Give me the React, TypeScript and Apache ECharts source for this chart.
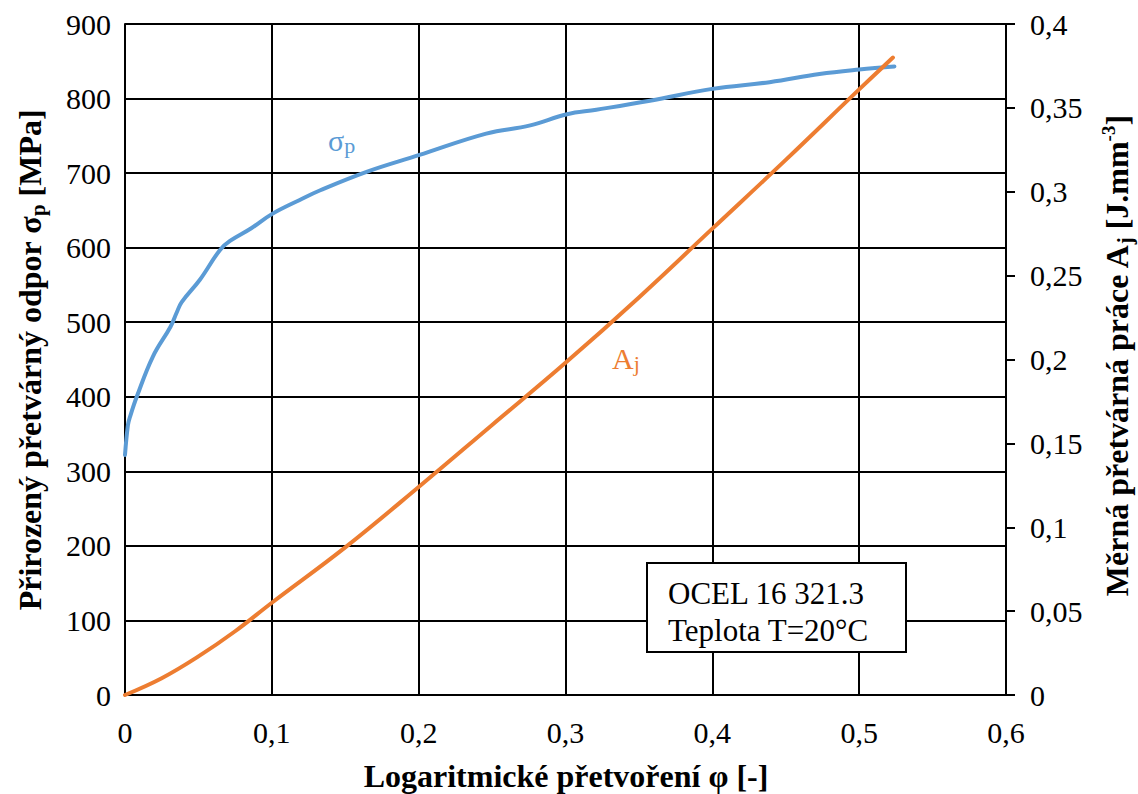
import React, { useEffect, useRef } from "react";
import * as echarts from "echarts";

// σp curve (true stress) vs logarithmic strain φ
const sigmaPhi = [0, 0.002, 0.0034, 0.008, 0.019, 0.031, 0.035, 0.0386, 0.051, 0.0647, 0.0715, 0.086, 0.1, 0.119, 0.133, 0.165, 0.2, 0.246, 0.276, 0.301, 0.321, 0.3575, 0.4, 0.439, 0.473, 0.5, 0.524];
const sigmaVal = [322, 362, 373, 400, 454, 494, 512, 527, 557, 597, 609, 626, 645, 664, 677, 702, 724, 753, 764, 779, 785, 797, 813, 822, 833, 839, 843];

// Aj curve (specific deformation work) vs φ
const ajPhi = [0, 0.025, 0.05, 0.075, 0.1, 0.15, 0.2, 0.25, 0.3, 0.35, 0.4, 0.45, 0.5, 0.523];
const ajVal = [0, 0.010, 0.023, 0.038, 0.055, 0.088, 0.124, 0.161, 0.198, 0.237, 0.278, 0.319, 0.361, 0.38];

const xTicks = { min: 0, max: 0.6, interval: 0.1 };
const yLeftTicks = { min: 0, max: 900, interval: 100 };
const yRightTicks = { min: 0, max: 0.4, interval: 0.05 };

const FONT = "Liberation Serif";
const BLUE = "#5B9BD5";
const ORANGE = "#ED7D31";

const comma = (v: number) => String(+v.toFixed(4)).replace(".", ",");

export default function App() {
  const ref = useRef<HTMLDivElement>(null);
  useEffect(() => {
    if (!ref.current) return;
    const chart = echarts.init(ref.current, null, { renderer: "svg" });
    const sigmaData = sigmaPhi.map((p, i) => [p, sigmaVal[i]]);
    const ajData = ajPhi.map((p, i) => [p, ajVal[i]]);
    const tickLabel = { fontFamily: FONT, fontSize: 30, color: "#000" };
    chart.setOption({
      animation: false,
      backgroundColor: "#fff",
      textStyle: { fontFamily: FONT },
      grid: { left: 125, right: 132, top: 24, bottom: 99, containLabel: false },
      xAxis: {
        type: "value",
        ...xTicks,
        axisLine: { show: true, onZero: false, lineStyle: { color: "#000", width: 2 } },
        axisTick: { show: false },
        axisLabel: { ...tickLabel, margin: 22, formatter: comma },
        splitLine: { show: true, lineStyle: { color: "#000", width: 2 } },
      },
      yAxis: [
        {
          type: "value",
          position: "left",
          ...yLeftTicks,
          axisLine: { show: true, lineStyle: { color: "#000", width: 2 } },
          axisTick: { show: false },
          axisLabel: { ...tickLabel, margin: 14 },
          splitLine: { show: true, lineStyle: { color: "#000", width: 2 } },
        },
        {
          type: "value",
          position: "right",
          ...yRightTicks,
          axisLine: { show: true, lineStyle: { color: "#000", width: 2 } },
          axisTick: { show: true, inside: false, length: 9, lineStyle: { color: "#000", width: 2 } },
          axisLabel: { ...tickLabel, margin: 24, formatter: comma },
          splitLine: { show: false },
        },
      ],
      series: [
        {
          name: "σp",
          type: "line",
          data: sigmaData,
          yAxisIndex: 0,
          showSymbol: false,
          smooth: 0.4,
          lineStyle: { color: BLUE, width: 4, cap: "round" },
          itemStyle: { color: BLUE },
          z: 3,
        },
        {
          name: "Aj",
          type: "line",
          data: ajData,
          yAxisIndex: 1,
          showSymbol: false,
          smooth: 0.4,
          lineStyle: { color: ORANGE, width: 4, cap: "round" },
          itemStyle: { color: ORANGE },
          z: 4,
        },
      ],
      graphic: [
        {
          type: "text",
          x: 30,
          y: 360,
          rotation: Math.PI / 2,
          style: {
            text: "{b|Přirozený přetvárný odpor σ}{s|p}{b| [MPa]}",
            textAlign: "center",
            textVerticalAlign: "middle",
            fill: "#000",
            rich: {
              b: { fontFamily: FONT, fontSize: 32, fontWeight: "bold", lineHeight: 36, fill: "#000" },
              s: { fontFamily: FONT, fontSize: 21, fontWeight: "bold", lineHeight: 21, verticalAlign: "bottom", fill: "#000" },
            },
          },
        },
        {
          type: "text",
          x: 1117,
          y: 356,
          rotation: Math.PI / 2,
          style: {
            text: "{b|Měrná přetvárná práce A}{s|j}{b| [J.mm}{u|-3}{b|]}",
            textAlign: "center",
            textVerticalAlign: "middle",
            fill: "#000",
            rich: {
              b: { fontFamily: FONT, fontSize: 32, fontWeight: "bold", lineHeight: 36, fill: "#000" },
              s: { fontFamily: FONT, fontSize: 21, fontWeight: "bold", lineHeight: 21, verticalAlign: "bottom", fill: "#000" },
              u: { fontFamily: FONT, fontSize: 19, fontWeight: "bold", lineHeight: 19, verticalAlign: "top", fill: "#000" },
            },
          },
        },
        {
          type: "text",
          x: 566,
          y: 776,
          style: {
            text: "Logaritmické přetvoření φ [-]",
            textAlign: "center",
            textVerticalAlign: "middle",
            fontFamily: FONT,
            fontSize: 32,
            fontWeight: "bold",
            fill: "#000",
          },
        },
        {
          type: "text",
          x: 328,
          y: 140,
          style: {
            text: "{m|σ}{s|p}",
            textAlign: "left",
            textVerticalAlign: "middle",
            rich: {
              m: { fontFamily: FONT, fontSize: 30, lineHeight: 32, fill: BLUE },
              s: { fontFamily: FONT, fontSize: 22, lineHeight: 22, verticalAlign: "bottom", fill: BLUE },
            },
          },
        },
        {
          type: "text",
          x: 612,
          y: 358,
          style: {
            text: "{m|A}{s|j}",
            textAlign: "left",
            textVerticalAlign: "middle",
            rich: {
              m: { fontFamily: FONT, fontSize: 30, lineHeight: 32, fill: ORANGE },
              s: { fontFamily: FONT, fontSize: 22, lineHeight: 22, verticalAlign: "bottom", fill: ORANGE },
            },
          },
        },
        {
          type: "rect",
          shape: { x: 647, y: 563, width: 259, height: 89 },
          style: { fill: "#fff", stroke: "#000", lineWidth: 2 },
          z: 10,
        },
        {
          type: "text",
          x: 668,
          y: 593,
          z: 11,
          style: { text: "OCEL 16 321.3", fontFamily: FONT, fontSize: 31, fill: "#000", textVerticalAlign: "middle" },
        },
        {
          type: "text",
          x: 668,
          y: 630,
          z: 11,
          style: { text: "Teplota T=20°C", fontFamily: FONT, fontSize: 31, fill: "#000", textVerticalAlign: "middle" },
        },
      ],
    });
    return () => chart.dispose();
  }, []);
  return (
    <div
      ref={ref}
      style={{ position: "fixed", left: 0, top: 0, width: 1138, height: 794, background: "#fff" }}
    />
  );
}
